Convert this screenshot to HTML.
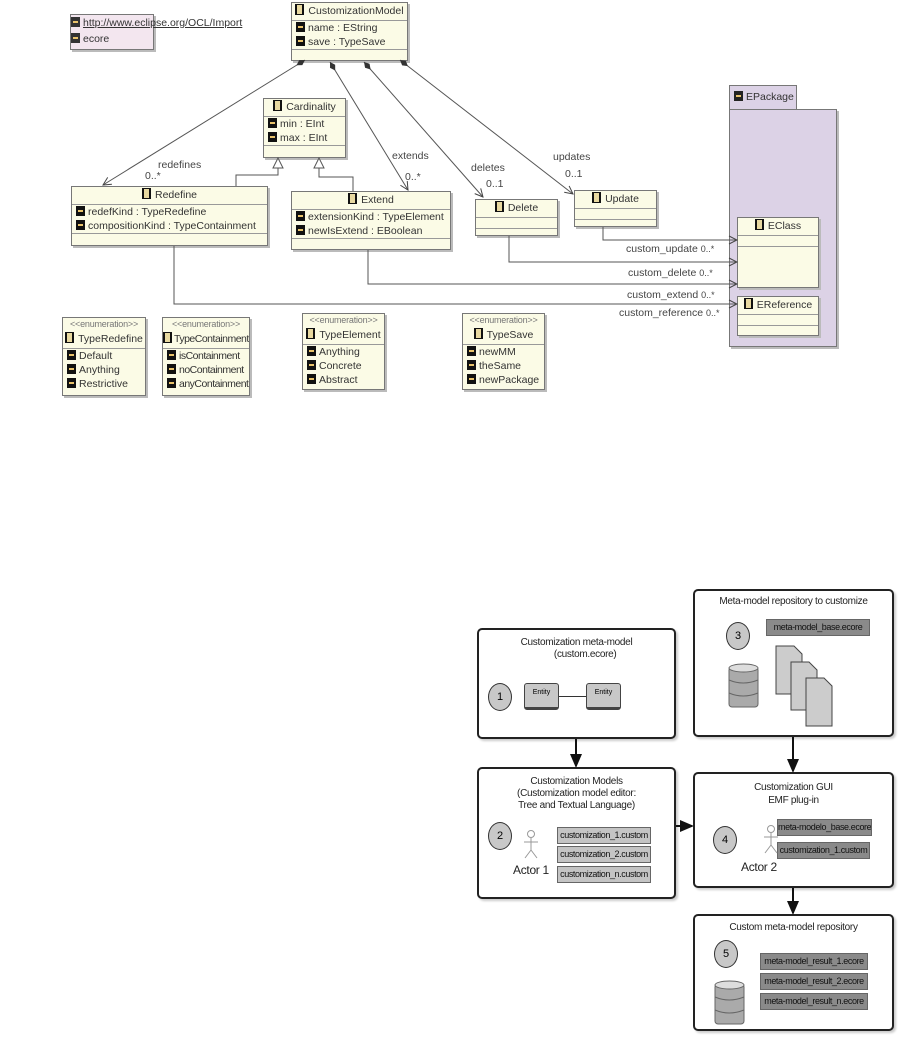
<!DOCTYPE html>
<html><head><meta charset="utf-8"><style>
body{margin:0;width:901px;height:1039px;background:#fff;position:relative;overflow:hidden;font-family:"Liberation Sans",sans-serif;}
.c{position:absolute;background:#fbfbe6;border:1px solid #777;box-shadow:2px 2px 0 #bbb;font-size:10.5px;color:#333;box-sizing:border-box;overflow:hidden}
.h{border-bottom:1px solid #999;text-align:center;height:17px;line-height:17px;white-space:nowrap}
.a{height:14px;line-height:14px;padding-left:4px;white-space:nowrap}
.ic{display:inline-block;width:9px;height:10px;background:#111;vertical-align:-1px;margin-right:3px;position:relative}
.ic:after{content:"";position:absolute;left:2px;top:4px;width:5px;height:2px;background:#e9c36b}
.ci{display:inline-block;width:9px;height:11px;background:#111;vertical-align:-1px;margin-right:4px;position:relative}
.ci:after{content:"";position:absolute;left:2px;top:1px;width:5px;height:9px;background:#e8d9a0}
.st{text-align:center;color:#777;font-size:9px;height:13px;line-height:13px;white-space:nowrap;letter-spacing:-0.2px}
.lb{position:absolute;font-size:10.5px;color:#444;white-space:nowrap}
.b{position:absolute;border:2px solid #222;border-radius:5px;background:#fff;box-sizing:border-box;box-shadow:2px 2px 2px #ccc}
.t{position:absolute;font-family:"Liberation Sans",sans-serif;font-size:10px;color:#222;text-align:center;white-space:nowrap;letter-spacing:-0.3px}
.g{position:absolute;background:#8a8a8a;border:1px solid #666;font-family:"Liberation Sans",sans-serif;font-size:9px;color:#111;text-align:center;line-height:15px;height:17px;box-sizing:border-box;white-space:nowrap;letter-spacing:-0.4px;overflow:hidden}
.g2{background:#c4c4c4}
.n{position:absolute;width:22px;height:26px;border-radius:50%;border:1px solid #333;background:#c8c8c8;font-family:"Liberation Sans",sans-serif;font-size:11px;text-align:center;line-height:26px}
</style></head><body>

<div style="position:absolute;left:70px;top:14px;width:82px;height:34px;background:#f3e6ef;border:1px solid #777;box-shadow:2px 2px 0 #bbb;font-size:10.5px;color:#333">
<div style="height:16px;line-height:16px;white-space:nowrap"><span class="ic" style="background:#333"></span><u>http://www.eclipse.org/OCL/Import</u></div>
<div style="height:16px;line-height:16px"><span class="ic" style="background:#333"></span>ecore</div></div>

<div class="c" style="left:291px;top:2px;width:117px;height:59px"><div class="h"><span class="ci"></span>CustomizationModel</div><div class="a"><span class="ic"></span>name : EString</div><div class="a" style="border-bottom:1px solid #999"><span class="ic"></span>save : TypeSave</div></div>
<div class="c" style="left:263px;top:98px;width:83px;height:60px"><div class="h"><span class="ci"></span>Cardinality</div><div class="a"><span class="ic"></span>min : EInt</div><div class="a" style="border-bottom:1px solid #999"><span class="ic"></span>max : EInt</div></div>
<div class="c" style="left:71px;top:186px;width:197px;height:60px"><div class="h"><span class="ci"></span>Redefine</div><div class="a"><span class="ic"></span>redefKind : TypeRedefine</div><div class="a" style="border-bottom:1px solid #999"><span class="ic"></span>compositionKind : TypeContainment</div></div>
<div class="c" style="left:291px;top:191px;width:160px;height:59px"><div class="h"><span class="ci"></span>Extend</div><div class="a"><span class="ic"></span>extensionKind : TypeElement</div><div class="a" style="border-bottom:1px solid #999"><span class="ic"></span>newIsExtend : EBoolean</div></div>
<div class="c" style="left:475px;top:199px;width:83px;height:37px"><div class="h"><span class="ci"></span>Delete</div><div style="height:10px;border-bottom:1px solid #999"></div></div>
<div class="c" style="left:574px;top:190px;width:83px;height:37px"><div class="h"><span class="ci"></span>Update</div><div style="height:10px;border-bottom:1px solid #999"></div></div>

<div style="position:absolute;left:729px;top:85px;width:68px;height:25px;background:#dcd2e6;border:1px solid #777;box-sizing:border-box;font-size:10.5px;line-height:22px;color:#333"><span class="ic" style="background:#222;margin-left:4px"></span>EPackage</div>
<div style="position:absolute;left:729px;top:109px;width:108px;height:238px;background:#dcd2e6;border:1px solid #777;box-sizing:border-box;box-shadow:2px 2px 0 #bbb"></div>
<div class="c" style="left:737px;top:217px;width:82px;height:71px"><div class="h"><span class="ci"></span>EClass</div><div style="height:10px;border-bottom:1px solid #999"></div></div>
<div class="c" style="left:737px;top:296px;width:82px;height:40px"><div class="h"><span class="ci"></span>EReference</div><div style="height:10px;border-bottom:1px solid #999"></div></div>

<div class="lb" style="left:158px;top:159px">redefines</div><div class="lb" style="left:145px;top:170px">0..*</div>
<div class="lb" style="left:392px;top:150px">extends</div><div class="lb" style="left:405px;top:171px">0..*</div>
<div class="lb" style="left:471px;top:162px">deletes</div><div class="lb" style="left:486px;top:178px">0..1</div>
<div class="lb" style="left:553px;top:151px">updates</div><div class="lb" style="left:565px;top:168px">0..1</div>
<div class="lb" style="left:626px;top:243px">custom_update <span style="font-size:9px">0..*</span></div>
<div class="lb" style="left:628px;top:267px">custom_delete <span style="font-size:9px">0..*</span></div>
<div class="lb" style="left:627px;top:289px">custom_extend <span style="font-size:9px">0..*</span></div>
<div class="lb" style="left:619px;top:307px">custom_reference <span style="font-size:9px">0..*</span></div>

<div class="c" style="left:62px;top:317px;width:84px;height:79px"><div class="st">&lt;&lt;enumeration&gt;&gt;</div><div class="h"><span class="ci"></span>TypeRedefine</div><div class="a"><span class="ic"></span>Default</div><div class="a"><span class="ic"></span>Anything</div><div class="a"><span class="ic"></span>Restrictive</div></div>
<div class="c" style="left:162px;top:317px;width:88px;height:79px;letter-spacing:-0.5px"><div class="st">&lt;&lt;enumeration&gt;&gt;</div><div class="h" style="padding-right:1px"><span class="ci" style="margin-right:2px"></span>TypeContainment</div><div class="a"><span class="ic"></span>isContainment</div><div class="a"><span class="ic"></span>noContainment</div><div class="a"><span class="ic"></span>anyContainment</div></div>
<div class="c" style="left:302px;top:313px;width:83px;height:77px"><div class="st">&lt;&lt;enumeration&gt;&gt;</div><div class="h"><span class="ci"></span>TypeElement</div><div class="a"><span class="ic"></span>Anything</div><div class="a"><span class="ic"></span>Concrete</div><div class="a"><span class="ic"></span>Abstract</div></div>
<div class="c" style="left:462px;top:313px;width:83px;height:77px"><div class="st">&lt;&lt;enumeration&gt;&gt;</div><div class="h"><span class="ci"></span>TypeSave</div><div class="a"><span class="ic"></span>newMM</div><div class="a"><span class="ic"></span>theSame</div><div class="a"><span class="ic"></span>newPackage</div></div>

<div class="b" style="left:477px;top:628px;width:199px;height:111px"></div>
<div class="t" style="left:477px;top:637px;width:199px;line-height:12px">Customization meta-model<br>&nbsp;&nbsp;&nbsp;&nbsp;&nbsp;&nbsp;&nbsp;(custom.ecore)</div>
<div class="n" style="left:488px;top:683px">1</div>
<div style="position:absolute;left:524px;top:683px;width:35px;height:27px;background:#c8c8c8;border:1px solid #444;border-radius:3px;font-family:'Liberation Sans',sans-serif;font-size:7px;text-align:center;line-height:18px;box-sizing:border-box;border-bottom-width:3px">Entity</div>
<div style="position:absolute;left:559px;top:696px;width:27px;height:1px;background:#333"></div>
<div style="position:absolute;left:586px;top:683px;width:35px;height:27px;background:#c8c8c8;border:1px solid #444;border-radius:3px;font-family:'Liberation Sans',sans-serif;font-size:7px;text-align:center;line-height:18px;box-sizing:border-box;border-bottom-width:3px">Entity</div>

<div class="b" style="left:477px;top:767px;width:199px;height:132px"></div>
<div class="t" style="left:477px;top:776px;width:199px;line-height:12px">Customization Models<br>(Customization model editor:<br>Tree and Textual Language)</div>
<div class="n" style="left:488px;top:822px">2</div>
<div class="t" style="left:513px;top:863px;font-size:12px">Actor 1</div>
<div class="g g2" style="left:557px;top:827px;width:94px">customization_1.custom</div>
<div class="g g2" style="left:557px;top:846px;width:94px">customization_2.custom</div>
<div class="g g2" style="left:557px;top:866px;width:94px">customization_n.custom</div>

<div class="b" style="left:693px;top:589px;width:201px;height:148px"></div>
<div class="t" style="left:693px;top:596px;width:201px">Meta-model repository to customize</div>
<div class="n" style="left:726px;top:622px">3</div>
<div class="g" style="left:766px;top:619px;width:104px">meta-model_base.ecore</div>
<svg style="position:absolute;left:728px;top:663px" width="32" height="48"><rect x="1" y="4" width="29" height="40" rx="3" fill="#aaa" stroke="#666"/><ellipse cx="15.5" cy="5" rx="14.5" ry="4" fill="#ddd" stroke="#666"/><path d="M1,17 Q15,23 30,17 M1,30 Q15,36 30,30" stroke="#666" fill="none"/></svg>
<svg style="position:absolute;left:774px;top:644px" width="60" height="86"><g fill="#ccc" stroke="#444"><path d="M2,2 H20 L28,10 V50 H2Z"/><path d="M17,18 H35 L43,26 V66 H17Z"/><path d="M32,34 H50 L58,42 V82 H32Z"/></g></svg>

<div class="b" style="left:693px;top:772px;width:201px;height:116px"></div>
<div class="t" style="left:693px;top:781px;width:201px;line-height:13px">Customization GUI<br>EMF plug-in</div>
<div class="n" style="left:713px;top:826px">4</div>
<div class="t" style="left:741px;top:860px;font-size:12px">Actor 2</div>
<div class="g" style="left:777px;top:819px;width:95px">meta-modelo_base.ecore</div>
<div class="g" style="left:777px;top:842px;width:93px">customization_1.custom</div>

<div class="b" style="left:693px;top:914px;width:201px;height:117px"></div>
<div class="t" style="left:693px;top:922px;width:201px">Custom meta-model repository</div>
<div class="n" style="left:714px;top:940px">5</div>
<div class="g" style="left:760px;top:953px;width:108px">meta-model_result_1.ecore</div>
<div class="g" style="left:760px;top:973px;width:108px">meta-model_result_2.ecore</div>
<div class="g" style="left:760px;top:993px;width:108px">meta-model_result_n.ecore</div>
<svg style="position:absolute;left:714px;top:980px" width="32" height="48"><rect x="1" y="4" width="29" height="40" rx="3" fill="#aaa" stroke="#666"/><ellipse cx="15.5" cy="5" rx="14.5" ry="4" fill="#ddd" stroke="#666"/><path d="M1,17 Q15,23 30,17 M1,30 Q15,36 30,30" stroke="#666" fill="none"/></svg>

<svg width="901" height="1039" style="position:absolute;left:0;top:0">
<defs>
<marker id="o" markerWidth="10" markerHeight="10" refX="9" refY="5" orient="auto" markerUnits="userSpaceOnUse"><path d="M1,1 L9,5 L1,9" fill="none" stroke="#444"/></marker>
<marker id="d" markerWidth="12" markerHeight="8" refX="1" refY="4" orient="auto" markerUnits="userSpaceOnUse"><path d="M1,4 L6,1 L11,4 L6,7z" fill="#333"/></marker>
<marker id="ar" markerWidth="14" markerHeight="12" refX="12" refY="6" orient="auto" markerUnits="userSpaceOnUse"><path d="M0,0 L14,6 L0,12z" fill="#111"/></marker>
</defs>
<g stroke="#555" stroke-width="1" fill="none">
<line x1="305" y1="60" x2="103" y2="185" marker-start="url(#d)" marker-end="url(#o)"/>
<line x1="330" y1="62" x2="408" y2="190" marker-start="url(#d)" marker-end="url(#o)"/>
<line x1="364" y1="62" x2="483" y2="197" marker-start="url(#d)" marker-end="url(#o)"/>
<line x1="400" y1="60" x2="573" y2="194" marker-start="url(#d)" marker-end="url(#o)"/>
<polyline points="236,186 236,175 278,175 278,168"/>
<polygon points="278,158 273,168 283,168" fill="#fff"/>
<polyline points="353,191 353,177 319,177 319,168"/>
<polygon points="319,158 314,168 324,168" fill="#fff"/>
<polyline points="603,227 603,240 737,240" marker-end="url(#o)"/>
<polyline points="509,236 509,262 737,262" marker-end="url(#o)"/>
<polyline points="368,250 368,284 737,284" marker-end="url(#o)"/>
<polyline points="174,246 174,304 737,304" marker-end="url(#o)"/>
</g>
<g stroke="#111" stroke-width="2" fill="none">
<line x1="576" y1="739" x2="576" y2="766" marker-end="url(#ar)"/>
<line x1="793" y1="737" x2="793" y2="771" marker-end="url(#ar)"/>
<line x1="676" y1="826" x2="692" y2="826" marker-end="url(#ar)"/>
<line x1="793" y1="888" x2="793" y2="913" marker-end="url(#ar)"/>
</g>
<g stroke="#999" stroke-width="1" fill="none">
<circle cx="531" cy="834" r="3.5"/><path d="M531,838 V850 M524,842 H538 M531,850 L525,858 M531,850 L537,858"/>
<circle cx="771" cy="829" r="3.5"/><path d="M771,833 V845 M764,837 H778 M771,845 L765,853 M771,845 L777,853"/>
</g>
</svg>
</body></html>
